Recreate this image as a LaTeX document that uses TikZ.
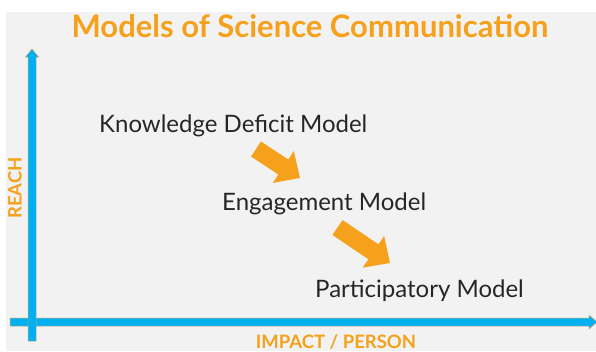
\documentclass[tikz,border=0pt]{standalone}
\usepackage{fontspec}
\setmainfont{Lato}
\usetikzlibrary{arrows.meta}
\definecolor{bggray}{HTML}{F2F2F2}
\definecolor{axisblue}{HTML}{00B0F0}
\definecolor{axisedge}{HTML}{C8A878}
\definecolor{orangeA}{HTML}{F5A11C}
\definecolor{textdark}{HTML}{262626}
\tikzset{
  axisbar/.style={fill=axisblue, draw=axisedge, line width=0.5pt},
  modellabel/.style={anchor=base west, inner sep=0pt, text=textdark, font=\fontsize{24}{28}\selectfont},
  axislabel/.style={inner sep=0pt, text=orangeA, font=\bfseries\fontsize{18.5}{22}\selectfont},
  bigarrow/.style={orangeA, line width=18pt, -{Triangle[length=20pt,width=37pt]}}
}
\begin{document}
\begin{tikzpicture}[x=1pt,y=-1pt]
\useasboundingbox (0,0) rectangle (596,351);
\fill[bggray] (6,12) rectangle (596,351);
\node[inner sep=0pt, text=orangeA, font=\bfseries\fontsize{31}{35}\selectfont, anchor=base] (title) at (310,37) {Models of Science Communication};
% horizontal axis
\draw[axisbar] (10,318) -- (589,318) -- (589,315) -- (597,322) -- (589,329) -- (589,326) -- (10,326) -- cycle;
% vertical axis
\draw[axisbar] (28,341) -- (28,57) -- (25.5,57) -- (32,49) -- (38.5,57) -- (36,57) -- (36,341) -- cycle;
\node[axislabel, rotate=90] (reach) at (15,188) {REACH};
\node[axislabel, anchor=base] (impact) at (336,348.5) {IMPACT / PERSON};
\node[modellabel] (kdm) at (99,132) {Knowledge Deficit Model};
\node[modellabel] (em) at (222,210) {Engagement Model};
\node[modellabel] (pm) at (315,297) {Participatory Model};
\coordinate (a1s) at (256,149);
\coordinate (a1e) at (300,178);
\coordinate (a2s) at (337.5,227.5);
\coordinate (a2e) at (390,263);
\draw[bigarrow] (a1s) -- (a1e);
\draw[bigarrow] (a2s) -- (a2e);
\end{tikzpicture}
\end{document}
